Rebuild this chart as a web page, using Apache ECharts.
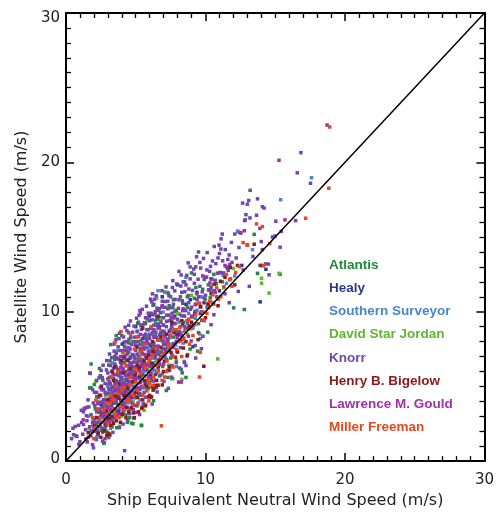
<!DOCTYPE html>
<html>
<head>
<meta charset="utf-8">
<script src="https://cdn.jsdelivr.net/npm/echarts@6/dist/echarts.min.js"></script>
<style>
html,body{margin:0;padding:0;background:#fff;}
#chart{width:497px;height:514px;}
</style>
</head>
<body>
<div id="chart"></div>
<script>
const shipNames = ["Atlantis","Healy","Southern Surveyor","David Star Jordan","Knorr","Henry B. Bigelow","Lawrence M. Gould","Miller Freeman"];
const shipColors = ["#1f8a3a","#2a3a8c","#4a86c8","#5cb82e","#7444b0","#8b1a1a","#a030a8","#e8461e"];
const xTickLabels = ["0","10","20","30"];
const yTickLabels = ["0","10","20","30"];
const diagonal = [[0,0],[30,30]];

const atlantis = [[1.8,6.5],[1.7,4.9],[2.4,6.2],[2.7,1.2],[3.2,7.8],[3.6,8.4],[4.0,8.4],[4.8,2.5],[5.4,2.4],[6.4,9.4],[6.6,9.5],[6.8,9.6],[7.1,11.3],[7.7,10.8],[8.6,5.6],
[2.2,2.5],[2.5,3.8],[2.8,4.6],[2.9,2.0],[3.0,3.6],[3.1,5.6],[3.3,2.3],[3.4,4.9],[3.5,6.5],[3.7,3.8],[3.8,5.3],[3.9,7.0],[4.1,4.4],[4.2,6.6],[4.3,3.1],[4.4,7.2],[4.5,5.3],[4.6,3.5],[4.7,6.0],[4.8,8.0],[4.9,4.6],[5.0,6.3],[5.1,3.7],[5.2,8.0],[5.3,6.7],[5.4,4.4],[5.5,7.9],[5.6,5.7],[5.7,9.2],[5.8,6.4],[5.9,4.9],[6.0,7.8],[6.1,5.4],[6.2,9.8],[6.3,7.2],[6.5,8.3],[6.7,5.7],[6.9,7.5],[7.0,9.1],[7.2,7.3],[7.4,10.4],[7.5,6.9],[7.7,8.3],[7.8,10.0],[8.0,8.6],[8.2,11.0],[8.4,9.3],[8.7,10.3],[8.9,7.5],[9.2,10.9],[9.5,9.2],[9.8,11.5],[10.2,11.8],[10.6,12.5],[11.2,12.0],[12.02,10.26],[12.78,10.15],[13.49,15.18],[13.73,12.57],[15.35,12.51],[9.0,12.6],[8.5,12.0],[3.0,1.9],[2.1,3.5],[4.4,2.6],[5.9,8.8],[6.6,10.1],[7.3,5.6],
[2.17,2.93],[2.36,3.26],[2.52,2.05],[2.68,3.58],[2.83,2.31],[2.98,5.12],[3.12,4.21],[3.26,3.38],[3.39,5.77],[3.52,4.36],[3.64,3.12],[3.78,6.15],[3.91,4.83],[4.06,3.84],[4.19,5.46],[4.33,6.78],[4.47,4.68],[4.61,5.23],[4.74,3.97],[4.87,7.06],[5.02,5.47],[5.16,6.87],[5.29,4.53],[5.43,7.18],[5.57,6.21],[5.71,8.28],[5.84,5.27],[5.97,7.36],[6.11,8.47],[6.24,6.43],[6.38,7.67],[6.53,9.08],[6.66,7.13],[6.79,8.63],[6.93,6.33],[7.07,8.38],[7.22,9.77],[7.36,7.83],[7.51,9.45],[7.66,10.27],[7.81,8.77],[7.96,7.34],[8.13,9.83],[8.34,10.74],[8.56,8.88],[8.78,11.08],[9.04,9.64],[9.31,11.62],[9.62,10.35],[9.91,12.16],[10.34,10.93],[10.78,11.87],[3.06,6.43],[2.64,5.42],[4.51,8.16],[5.37,9.08],[1.88,1.96],[2.27,1.71],
[1.8,4.9],[2.2,4.3],[2.75,1.22],[5.42,2.38],[4.7,2.54],[5.89,4.86],[7.6,5.52],[1.64,3.63],[2.03,5.13],[2.46,5.72],[3.27,6.93],[4.16,7.96],[5.14,9.23],[6.24,10.43],[7.38,11.07],[3.63,2.24],[4.57,2.91],[6.28,4.04],[7.19,4.73],[8.26,6.14],[9.43,7.36],[10.16,8.63]];

const healy = [[2.3,2.3],[3.1,4.7],[3.4,3.3],[3.9,5.9],[4.2,4.6],[4.6,6.9],[4.9,5.7],[5.2,4.5],[5.5,8.2],[5.8,6.1],[6.1,7.7],[6.4,5.8],[6.7,9.0],[7.0,7.0],[7.4,8.7],[7.8,9.7],[8.2,8.1],[8.6,10.5],[9.1,7.66],[9.4,11.3],[9.9,10.6],[10.4,12.2],[11.0,11.4],[11.6,12.9],[13.92,10.66],[14.33,12.84],[12.6,13.1],[3.6,6.9],[2.8,3.1],[5.0,9.0],[6.9,11.0],[8.0,11.8],
[2.56,3.73],[3.23,2.86],[3.71,4.41],[4.37,5.42],[4.74,4.26],[5.33,6.37],[5.68,5.13],[6.23,6.56],[6.58,8.13],[7.17,7.81],[7.58,9.17],[8.37,9.12],[8.91,10.81],[9.63,9.88],[10.27,11.45],[4.03,7.83],[5.97,9.71]];

const southernSurveyor = [[1.6,3.0],[2.2,1.6],[2.6,4.0],[2.9,3.2],[3.2,2.2],[3.5,5.0],[3.8,3.6],[4.1,5.4],[4.4,3.9],[4.7,5.1],[5.0,6.8],[5.3,4.1],[5.6,6.0],[5.9,5.2],[6.2,6.9],[6.6,11.41],[6.96,9.97],[7.08,11.3],[7.3,7.6],[7.6,8.9],[7.91,6.33],[8.1,9.3],[8.4,7.9],[8.8,9.9],[9.1,8.9],[9.4,10.1],[9.7,11.0],[10.1,10.3],[10.5,11.4],[11.0,12.6],[11.5,11.9],[12.1,12.4],[12.37,15.33],[12.3,15.4],[13.37,14.16],[13.9,13.1],[15.39,17.5],[17.6,18.97],[4.5,7.6],[6.0,8.5],[3.0,5.0],[5.4,7.2],[8.6,12.3],[7.0,8.0],
[2.38,2.77],[2.79,3.69],[3.14,4.58],[3.49,3.16],[3.86,4.96],[4.23,3.67],[4.58,6.43],[4.94,4.23],[5.26,5.58],[5.63,4.91],[5.97,6.67],[6.32,6.08],[6.68,7.34],[7.13,6.96],[7.47,8.27],[7.86,7.77],[8.27,8.57],[8.69,9.23],[9.27,9.56],[9.83,10.96],[10.46,10.63],[11.27,12.43],[3.33,6.57],[5.12,8.66],[6.43,9.24],
[2.45,4.9],[1.93,2.41],[3.71,7.42],[4.86,2.87],[6.92,5.86],[8.47,6.67],[9.64,8.21]];

const davidStarJordan = [[2.3,4.0],[2.9,2.7],[3.3,6.0],[3.7,4.6],[4.0,3.0],[4.3,5.8],[4.6,7.9],[5.0,5.0],[5.3,7.3],[5.6,3.4],[6.0,6.3],[6.3,8.7],[6.84,9.5],[7.27,11.3],[7.6,7.8],[7.67,5.52],[8.0,9.9],[8.31,5.47],[8.7,8.5],[9.0,11.1],[9.6,8.5],[10.0,10.8],[10.88,6.84],[11.3,11.6],[12.0,12.9],[14.02,12.24],[14.02,11.91],[14.56,11.25],[15.27,12.57],[4.8,4.0],[6.5,10.9],[3.4,3.9],[5.8,9.4],
[2.47,2.57],[2.84,4.37],[3.53,3.33],[3.96,5.62],[4.41,4.23],[4.93,6.66],[5.47,5.58],[5.94,7.47],[6.46,6.67],[6.97,8.46],[7.36,6.43],[7.87,9.23],[8.46,9.74],[9.31,9.97],[10.43,11.72],[3.18,1.73],[2.14,5.33],
[1.66,2.16],[3.84,2.34],[5.72,3.81],[7.92,6.73],[4.22,7.62]];

const knorr = [[0.4,1.5],[0.5,2.2],[0.7,1.7],[1.0,1.3],[1.2,1.8],[1.1,3.4],[1.3,3.5],[1.7,2.3],[1.9,1.1],[1.7,5.9],[1.5,2.7],[1.8,3.1],[1.6,1.6],[1.9,2.6],[1.4,2.1],
[2.1,2.0],[2.2,3.3],[2.3,2.6],[2.4,3.9],[2.5,3.0],[2.5,4.4],[2.6,2.2],[2.6,3.6],[2.7,4.8],[2.7,2.9],[2.8,3.4],[2.8,5.2],[2.9,2.4],[2.9,4.1],[2.3,1.8],[2.4,2.9],[2.6,5.6],[2.8,1.5],[2.2,4.6],[2.9,3.7],[2.5,3.3],[2.0,2.8],[2.7,3.9],[2.9,6.1],
[3.0,3.2],[3.0,4.5],[3.1,5.3],[3.1,2.6],[3.2,3.8],[3.2,6.4],[3.3,4.2],[3.3,5.0],[3.4,2.9],[3.4,5.8],[3.5,3.5],[3.5,4.7],[3.5,6.8],[3.6,4.0],[3.6,5.4],[3.7,3.1],[3.7,6.1],[3.7,4.9],[3.8,8.2],[3.8,4.4],[3.8,5.7],[3.9,3.7],[3.9,6.6],[3.9,5.1],[3.0,5.9],[3.2,4.8],[3.4,4.4],[3.6,7.2],[3.3,3.6],[3.5,5.2],[3.7,4.3],[3.9,7.4],[3.1,4.0],[3.6,6.3],[3.8,3.4],[3.4,6.2],[3.2,5.6],[3.9,4.6],
[4.0,4.1],[4.0,5.6],[4.0,7.0],[4.1,3.3],[4.1,6.2],[4.1,4.8],[4.2,5.2],[4.2,7.7],[4.2,3.9],[4.3,6.0],[4.3,4.5],[4.3,8.0],[4.4,5.5],[4.4,6.8],[4.4,3.6],[4.5,4.9],[4.5,7.3],[4.5,6.1],[4.5,8.6],[4.6,5.3],[4.6,4.2],[4.6,6.6],[4.7,7.8],[4.7,5.8],[4.7,4.7],[4.8,6.3],[4.8,7.1],[4.8,3.8],[4.9,5.0],[4.9,8.3],[4.9,6.9],[4.2,0.7],[4.0,6.5],[4.3,5.1],[4.6,7.5],[4.8,5.6],[4.1,7.4],[4.4,4.4],[4.7,6.4],[4.9,4.4],[4.5,9.1],
[5.0,5.9],[5.0,7.4],[5.0,4.3],[5.1,6.6],[5.1,8.7],[5.1,5.2],[5.2,7.0],[5.2,6.1],[5.2,9.3],[5.3,5.5],[5.3,7.8],[5.3,4.8],[5.4,6.4],[5.4,8.1],[5.4,9.1],[5.5,7.2],[5.5,5.8],[5.5,6.8],[5.6,8.4],[5.6,4.6],[5.6,7.5],[5.7,6.2],[5.7,9.6],[5.7,7.9],[5.8,5.4],[5.8,8.8],[5.8,6.9],[5.9,7.3],[5.9,6.0],[5.9,9.9],[5.5,9.1],[5.0,8.0],[5.3,6.0],[5.6,6.5],[5.8,7.6],[5.1,7.7],[5.4,5.0],[5.7,8.5],
[6.0,6.6],[6.0,8.2],[6.0,9.4],[6.1,7.1],[6.1,9.9],[6.1,5.6],[6.2,8.6],[6.2,7.5],[6.2,6.2],[6.3,9.1],[6.3,7.9],[6.3,10.5],[6.4,6.9],[6.4,8.4],[6.5,7.3],[6.5,9.6],[6.5,5.9],[6.6,8.9],[6.6,7.7],[6.7,10.2],[6.7,6.5],[6.7,8.1],[6.8,9.3],[6.8,7.0],[6.9,8.7],[6.9,10.7],[6.2,11.2],[6.4,10.0],[6.6,6.2],[6.8,8.5],[6.3,8.8],
[7.0,7.8],[7.0,9.6],[7.1,8.4],[7.1,10.3],[7.2,6.8],[7.2,9.0],[7.3,10.7],[7.3,8.2],[7.4,9.4],[7.4,7.4],[7.5,11.0],[7.5,8.8],[7.6,9.9],[7.6,7.1],[7.7,10.5],[7.7,8.6],[7.8,9.2],[7.8,11.4],[7.9,8.0],[7.9,10.1],[7.3,10.2],[7.6,6.4],[7.9,6.6],
[8.0,9.5],[8.1,10.8],[8.1,12.7],[8.2,9.0],[8.3,11.3],[8.3,8.4],[8.4,10.2],[8.5,9.7],[8.5,6.6],[8.6,11.8],[8.6,6.4],[8.7,8.9],[8.8,10.6],[8.9,13.0],[8.9,12.2],[8.4,12.0],[8.7,11.0],[8.2,7.6],
[9.0,10.3],[9.1,9.1],[9.2,11.9],[9.3,13.0],[9.3,6.9],[9.4,10.8],[9.5,14.0],[9.5,8.6],[9.6,11.7],[9.7,10.0],[9.8,12.4],[9.9,9.4],[9.2,12.5],[9.6,13.3],
[10.0,11.1],[10.1,12.8],[10.2,10.4],[10.3,12.7],[10.4,11.6],[10.5,13.4],[10.6,9.8],[10.7,12.1],[10.8,11.0],[10.9,13.6],[11.0,13.9],
[11.1,14.2],[11.2,15.2],[11.3,12.6],[11.5,13.0],[11.6,13.5],[11.7,13.8],[11.8,12.2],[11.9,13.3],[11.4,11.2],[11.7,10.6],
[12.1,15.2],[12.4,14.3],[12.35,11.36],[12.5,15.3],[12.7,12.8],[12.9,16.5],[12.85,16.15],[12.66,17.27],[12.8,16.1],[12.2,13.6],
[13.0,17.2],[13.1,17.45],[13.2,18.13],[13.19,16.28],[13.66,16.46],[13.73,17.56],[13.9,15.58],[13.14,11.7],[13.4,13.7],
[14.08,17.03],[14.2,16.94],[14.8,15.0],[14.99,15.07],[14.56,12.47],[14.51,13.19],[14.3,13.2],[14.0,14.7],
[15.04,16.06],[15.35,14.32],[15.44,15.38],[16.46,16.1],[16.58,19.3],[16.84,20.65],[17.53,18.6],[18.72,22.5],
[1.25,2.45],[1.52,1.28],[1.83,2.02],[2.06,3.72],[2.18,1.44],[2.34,4.27],[2.47,2.33],[2.58,3.94],[2.63,1.92],[2.74,3.21],[2.86,4.53],[2.95,2.78],[2.12,2.58],[2.41,3.46],[2.77,2.11],[2.54,5.02],[1.96,3.89],[2.69,4.12],[2.88,3.07],[2.23,2.04],
[3.04,3.57],[3.08,4.86],[3.13,3.02],[3.17,5.18],[3.22,4.27],[3.27,6.02],[3.31,2.71],[3.36,4.63],[3.42,5.51],[3.46,3.88],[3.53,6.37],[3.57,4.21],[3.62,5.78],[3.66,3.39],[3.71,5.22],[3.76,6.83],[3.81,4.72],[3.86,5.96],[3.92,4.05],[3.97,6.28],[3.15,6.71],[3.45,7.36],[3.74,7.66],[3.58,2.96],[3.89,3.16],[3.28,4.47],[3.66,4.63],[3.93,5.44],
[4.03,4.57],[4.07,6.14],[4.12,5.03],[4.16,6.86],[4.21,4.31],[4.26,5.73],[4.31,7.41],[4.35,4.78],[4.39,6.37],[4.44,5.12],[4.48,7.92],[4.53,4.52],[4.57,5.87],[4.62,6.98],[4.66,3.92],[4.71,5.34],[4.76,7.14],[4.81,4.86],[4.85,6.62],[4.92,5.46],[4.96,7.78],[4.13,8.31],[4.37,8.73],[4.64,8.26],[4.88,9.04],[4.27,3.64],[4.55,3.17],[4.82,3.44],[4.18,5.96],[4.69,6.21],
[5.03,6.27],[5.06,4.84],[5.11,7.16],[5.14,5.61],[5.19,8.36],[5.23,6.73],[5.27,4.47],[5.32,7.52],[5.36,5.92],[5.41,8.82],[5.44,6.56],[5.49,4.93],[5.53,7.66],[5.58,6.16],[5.62,9.26],[5.67,5.33],[5.71,7.03],[5.76,8.17],[5.81,6.48],[5.86,9.58],[5.91,5.67],[5.95,8.42],[5.24,9.77],[5.47,10.16],[5.72,4.28],[5.16,3.86],[5.88,7.87],[5.35,8.48],
[6.04,7.33],[6.08,8.88],[6.13,6.36],[6.17,9.47],[6.22,7.84],[6.27,5.36],[6.31,8.27],[6.36,9.82],[6.41,7.06],[6.45,8.63],[6.52,10.24],[6.56,7.48],[6.61,9.18],[6.65,6.74],[6.72,8.46],[6.76,9.93],[6.83,7.27],[6.87,10.31],[6.93,8.04],[6.97,9.11],[6.14,10.66],[6.48,4.92],[6.79,5.76],
[7.04,8.68],[7.09,10.68],[7.14,7.52],[7.21,9.36],[7.26,8.03],[7.33,11.23],[7.37,9.77],[7.44,8.43],[7.52,10.27],[7.57,9.03],[7.63,11.62],[7.68,7.86],[7.74,9.58],[7.82,10.83],[7.88,8.47],[7.94,11.86],[7.43,6.07],
[8.06,10.23],[8.14,8.67],[8.23,11.72],[8.29,9.73],[8.37,10.56],[8.44,8.23],[8.52,11.34],[8.58,10.08],[8.66,12.43],[8.73,9.36],[8.81,11.52],[8.92,10.17],[8.97,8.04],
[9.07,11.43],[9.16,12.86],[9.24,10.02],[9.36,11.21],[9.47,12.18],[9.58,10.56],[9.66,12.92],[9.77,11.33],[9.86,13.57],[9.94,10.87],
[10.08,12.32],[10.22,11.46],[10.36,13.04],[10.47,12.18],[10.63,11.41],[10.74,13.22],[10.86,12.58],[10.97,14.46],[11.23,13.41],[11.42,14.16],[11.63,12.77],[11.86,14.64],[11.12,14.88],[11.74,13.16],
[1.74,5.87],[2.52,6.07],[2.92,6.73],[1.38,3.55],[1.25,3.3],[0.66,2.32],[0.54,1.77],[0.78,1.65],[1.97,0.89],[2.2,5.4],[2.05,4.6],[1.58,4.1],[2.66,6.42],[3.12,7.17],[3.44,7.83],[3.83,8.56],[4.24,8.97],[4.62,9.38],[5.06,9.57],[5.33,9.92],[5.77,10.37],[6.06,10.84],[6.46,11.07],[6.88,11.41],[1.12,2.58],[1.46,3.04],[0.92,1.12],[3.36,1.92],[3.82,2.24],[4.43,2.72],[5.02,3.26],[5.54,3.84],[6.04,4.27],[6.53,4.63],[7.02,5.34],[7.56,5.62],[8.14,6.23],[8.72,7.13],[9.26,7.74],[9.82,8.36],[10.4,9.13],[4.78,8.63],[3.58,8.12],[2.37,5.57],[1.92,4.78],[6.34,10.83],[7.17,11.66],[7.66,12.08],[8.26,12.46],[8.76,13.27],[9.36,13.68],[10.12,13.96],[10.63,14.37],[4.09,2.48],[5.28,3.12],[6.18,3.82],[7.34,4.87],[8.33,5.91],[9.71,7.52],[2.62,1.34],[3.07,1.58]];

const henryBigelow = [[1.6,1.9],[2.2,2.9],[2.5,1.6],[2.8,2.5],[3.0,4.1],[3.1,1.8],[3.3,3.0],[3.4,5.4],[3.6,2.7],[3.8,4.2],[3.9,2.6],[4.0,3.7],[4.1,5.9],[4.3,2.9],[4.4,4.9],[4.5,3.3],[4.6,6.2],[4.7,3.6],[4.8,5.3],[4.9,2.9],[5.0,4.6],[5.1,6.4],[5.2,3.3],[5.3,5.7],[5.4,7.4],[5.5,4.1],[5.6,6.7],[5.7,3.7],[5.8,5.0],[5.9,7.1],[6.0,4.4],[6.1,6.5],[6.2,8.0],[6.3,4.9],[6.4,7.6],[6.5,5.4],[6.7,6.8],[6.8,8.3],[6.9,5.1],[7.0,6.0],[7.2,8.5],[7.4,6.3],[7.6,9.3],[7.84,6.95],[8.0,7.3],[8.3,9.4],[8.6,8.0],[9.0,9.3],[9.3,10.5],[9.88,6.35],[10.0,9.6],[10.4,11.2],[10.9,10.4],[11.4,12.3],[12.1,11.8],[12.3,13.1],[13.0,14.47],[13.49,14.52],[14.0,13.1],[3.5,6.3],[4.2,7.0],[2.4,4.4],[5.5,8.9],[6.6,9.7],[3.2,2.4],
[2.04,2.36],[2.31,1.87],[2.56,3.14],[2.73,2.02],[2.91,3.36],[3.07,2.84],[3.24,3.83],[3.41,2.53],[3.58,4.36],[3.74,3.27],[3.87,5.16],[4.04,3.14],[4.17,4.38],[4.34,3.57],[4.52,5.74],[4.67,4.37],[4.83,3.22],[4.97,5.83],[5.13,4.26],[5.28,6.23],[5.46,3.61],[5.61,5.38],[5.77,6.91],[5.93,4.31],[6.07,5.81],[6.26,7.33],[6.44,5.07],[6.62,6.34],[6.81,7.62],[7.06,6.69],[7.28,7.96],[7.53,7.28],[7.76,8.64],[8.04,8.45],[8.42,7.57],[8.83,9.05],[9.22,9.84],[9.66,10.32],[10.18,10.53],[10.62,11.85],[11.07,12.04],[11.78,12.96],[3.33,5.97],[4.44,6.73],[5.07,7.63],
[2.92,1.72],[3.04,1.81],[5.42,3.53],[4.82,3.75],[6.13,4.3],[6.25,4.75],[6.6,5.08],[6.17,4.96],[7.31,6.07],[8.68,7.04],[9.47,8.13],[1.42,1.47],[2.53,4.98],[3.96,6.73]];

const lawrenceGould = [[0.9,2.4],[1.5,3.6],[2.0,2.2],[2.6,3.1],[3.0,5.5],[3.3,4.0],[3.7,3.2],[4.0,5.2],[4.3,7.1],[4.6,4.5],[4.9,6.0],[5.2,4.9],[5.3,10.08],[5.5,6.4],[5.8,8.0],[6.1,5.9],[6.4,7.0],[6.7,8.9],[7.0,6.5],[7.3,8.0],[7.7,7.6],[8.07,5.29],[8.27,5.29],[8.5,9.0],[9.0,9.7],[9.5,11.0],[10.0,12.3],[10.7,11.3],[11.4,13.1],[12.54,15.27],[12.78,15.42],[14.08,14.16],[15.27,20.14],[15.7,16.15],[4.1,3.5],[6.9,10.4],[3.5,7.0],
[1.23,2.76],[1.78,1.68],[2.28,3.84],[2.84,2.62],[3.18,3.41],[3.54,4.83],[3.93,6.27],[4.27,4.16],[4.62,5.78],[4.93,3.73],[5.34,5.26],[5.66,7.12],[6.02,6.36],[6.33,8.32],[6.71,6.47],[7.13,7.33],[7.54,9.64],[7.97,8.26],[8.36,10.07],[8.78,8.36],[9.26,10.47],[9.73,9.43],[10.32,11.93],[11.06,12.63],[2.57,4.77],[4.46,7.58]];

const millerFreeman = [[1.9,2.9],[2.3,3.5],[2.6,2.6],[2.9,3.9],[3.0,2.5],[3.2,4.4],[3.4,3.5],[3.51,7.94],[3.6,5.0],[3.8,2.9],[3.94,8.67],[4.0,4.7],[4.2,3.4],[4.3,6.4],[4.5,4.1],[4.6,5.6],[4.8,4.4],[4.9,7.5],[5.0,5.3],[5.2,3.9],[5.3,6.9],[5.5,5.0],[5.6,7.8],[5.8,4.7],[5.9,6.6],[6.0,5.2],[6.2,7.1],[6.3,5.6],[6.5,6.4],[6.6,8.1],[6.84,2.36],[6.89,5.41],[7.0,7.2],[7.2,6.0],[7.3,7.8],[7.5,8.4],[7.7,7.0],[7.9,8.8],[8.1,8.0],[8.3,7.0],[8.5,8.7],[8.8,9.5],[9.1,8.4],[9.3,9.8],[9.57,5.63],[9.62,7.28],[9.8,10.0],[10.1,9.9],[10.3,10.7],[10.6,10.5],[10.8,11.6],[11.1,11.0],[11.5,12.5],[11.9,11.7],[12.42,13.02],[12.7,14.63],[13.0,14.47],[13.66,15.88],[14.08,15.7],[14.16,13.08],[14.61,14.56],[17.18,16.26],[18.84,18.27],[18.9,22.37],[2.0,1.5],[3.7,6.0],[5.1,8.3],[6.1,9.0],
[2.11,2.24],[2.43,2.86],[2.71,3.43],[2.97,3.13],[3.16,3.86],[3.38,4.12],[3.55,3.07],[3.73,4.53],[3.95,3.64],[4.14,4.93],[4.36,4.02],[4.57,5.12],[4.78,3.76],[4.95,6.15],[5.12,4.72],[5.33,5.84],[5.51,4.39],[5.69,6.24],[5.87,5.46],[6.03,6.84],[6.24,5.08],[6.43,7.56],[6.62,6.03],[6.82,6.86],[7.03,8.21],[7.24,6.71],[7.46,7.63],[7.68,8.76],[7.92,7.47],[8.16,8.93],[8.42,8.17],[8.67,9.41],[8.94,8.86],[9.24,9.14],[9.53,10.57],[9.84,9.46],[10.23,10.27],[10.52,11.13],[10.93,10.83],[11.32,11.67],[11.73,12.14],[12.16,12.63],[4.08,7.27],[5.42,7.38],
[7.08,5.63],[7.67,6.29],[5.94,4.03],[8.86,7.82],[3.26,5.64],[2.14,4.06],[4.63,8.47]];

const shipData = [atlantis, healy, southernSurveyor, davidStarJordan, knorr, henryBigelow, lawrenceGould, millerFreeman];

const chart = echarts.init(document.getElementById('chart'), null, {renderer:'canvas'});
const tickFont = {fontFamily:'DejaVu Sans', fontSize:15, color:'#222'};

function axisCommon(showLabels){
  return {
    type:'value', min:0, max:30, interval:10,
    axisLine:{show:true, onZero:false, lineStyle:{color:'#000', width:2}},
    axisTick:{show:true, inside:true, length:8, lineStyle:{color:'#000', width:1.5}},
    minorTick:{show:true, splitNumber:10, length:5, lineStyle:{color:'#000', width:1.3}},
    splitLine:{show:false},
    axisLabel:{show:showLabels, ...tickFont}
  };
}

const xAxisBottom = axisCommon(true);
xAxisBottom.position = 'bottom';
xAxisBottom.axisLabel.margin = 12;
xAxisBottom.axisLabel.formatter = function(v){ return xTickLabels[Math.round(v/10)]; };
xAxisBottom.name = 'Ship Equivalent Neutral Wind Speed (m/s)';
xAxisBottom.nameLocation = 'middle';
xAxisBottom.nameGap = 30;
xAxisBottom.nameTextStyle = {fontFamily:'DejaVu Sans', fontSize:16, color:'#222'};

const xAxisTop = axisCommon(false);
xAxisTop.position = 'top';

const yAxisLeft = axisCommon(true);
yAxisLeft.position = 'left';
yAxisLeft.axisLabel.margin = 6;
yAxisLeft.axisLabel.formatter = function(v){
  const i = Math.round(v/10);
  const t = yTickLabels[i];
  if (i === 0) return '{lo|' + t + '}';
  if (i === yTickLabels.length - 1) return '{hi|' + t + '}';
  return t;
};
yAxisLeft.axisLabel.rich = {
  lo:{fontFamily:'DejaVu Sans', fontSize:15, color:'#222', padding:[0,0,4,0]},
  hi:{fontFamily:'DejaVu Sans', fontSize:15, color:'#222', padding:[10,0,0,0]}
};
yAxisLeft.name = 'Satellite Wind Speed (m/s)';
yAxisLeft.nameLocation = 'middle';
yAxisLeft.nameGap = 36;
yAxisLeft.nameTextStyle = {fontFamily:'DejaVu Sans', fontSize:16, color:'#222'};

const yAxisRight = axisCommon(false);
yAxisRight.position = 'right';

const series = shipNames.map((name, i) => ({
  name: name,
  type:'scatter',
  symbol:'rect',
  symbolSize:3.5,
  itemStyle:{color:shipColors[i], opacity:1},
  data: shipData[i],
  xAxisIndex:0, yAxisIndex:0,
  z:2
}));
series.push({
  name:'1:1',
  type:'line',
  data: diagonal,
  symbol:'none',
  lineStyle:{color:'#000', width:1.5},
  silent:true,
  xAxisIndex:0, yAxisIndex:0,
  z:3
});

chart.setOption({
  animation:false,
  backgroundColor:'#fff',
  grid:{left:66, right:10, top:13, bottom:47, containLabel:false},
  xAxis:[xAxisBottom, xAxisTop],
  yAxis:[yAxisLeft, yAxisRight],
  legend:{
    orient:'vertical', left:324, top:258, padding:0,
    icon:'none', itemWidth:0, itemHeight:14, itemGap:9.2,
    selectedMode:false,
    data: shipNames.map((n,i)=>({name:n, icon:'none', textStyle:{color:shipColors[i]}})),
    textStyle:{fontFamily:'Liberation Sans', fontWeight:'bold', fontSize:13.5}
  },
  series: series
});
</script>
</body>
</html>
